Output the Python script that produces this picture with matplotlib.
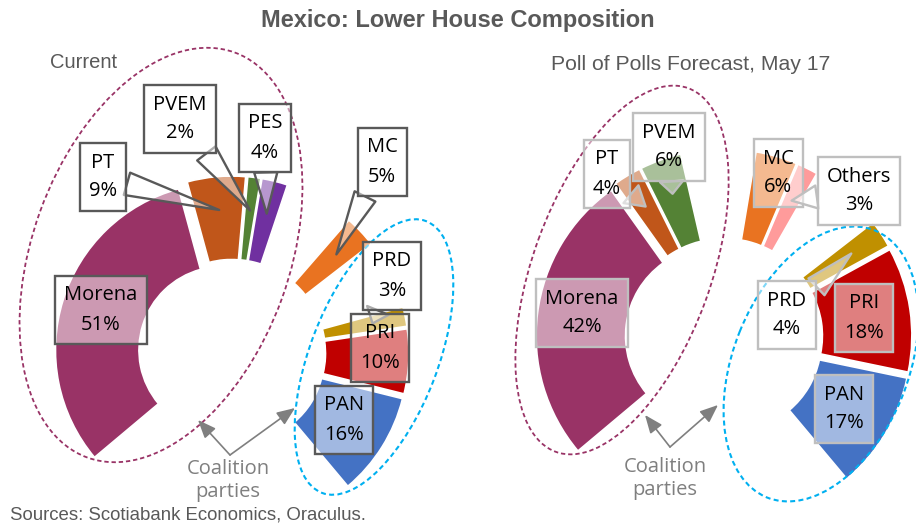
import matplotlib.pyplot as plt
from matplotlib.patches import Ellipse
import numpy as np

# Lower House composition, % of seats
current_parties = ["Morena", "PT", "PVEM", "PES", "MC", "PRD", "PRI", "PAN"]
current_shares = [51, 9, 2, 4, 5, 3, 10, 16]

# Poll of polls forecast, May 17
forecast_parties = ["Morena", "PT", "PVEM", "MC", "Others", "PRD", "PRI", "PAN"]
forecast_shares = [42, 4, 6, 6, 3, 4, 18, 17]

party_colors = {
    "Morena": "#993366",
    "PT": "#C0561A",
    "PVEM": "#548235",
    "PES": "#7030A0",
    "MC": "#E97321",
    "Others": "#FF9B9B",
    "PRD": "#C09000",
    "PRI": "#C00000",
    "PAN": "#4472C4",
}

W, H = 916, 527
GAP = 10      # blank slice between blocs
BOTTOM = 40   # blank lower part of the ring
LABEL_FONT = "Open Sans"
HEAD_FONT = "Liberation Sans"

fig = plt.figure(figsize=(W / 100, H / 100), dpi=100)
ax = fig.add_axes([0, 0, 1, 1])


def donut(names, shares, split_after, center, radius, explode):
    vals, cols, expl, keys = [], [], [], []
    for n, s in zip(names, shares):
        vals.append(s); cols.append(party_colors[n]); expl.append(explode); keys.append(n)
        if n in split_after:
            vals.append(GAP); cols.append("none"); expl.append(0); keys.append(None)
    vals.append(BOTTOM); cols.append("none"); expl.append(0); keys.append(None)
    # y axis is flipped, so this runs clockwise on screen from the lower left
    wedges, _ = ax.pie(vals, colors=cols, explode=expl, startangle=140, counterclock=True,
                       radius=radius, center=center, frame=True,
                       wedgeprops=dict(width=radius * 0.5, edgecolor="white", linewidth=1.2))
    out = {}
    for w, k in zip(wedges, keys):
        if k is None:
            w.set_visible(False)
        else:
            out[k] = w
    return out


def anchor(w, frac=0.8):
    t = np.radians((w.theta1 + w.theta2) / 2)
    cx, cy = w.center
    return cx + frac * w.r * np.cos(t), cy + frac * w.r * np.sin(t)


def callout(w, text, pos, edge, pointer):
    box = dict(boxstyle="square,pad=0.45", fc=(1, 1, 1, 0.5), ec=edge, lw=1.7)
    kw = dict(ha="center", va="center", fontsize=14.5, family=LABEL_FONT, color="black",
              linespacing=1.6, bbox=box, zorder=6)
    if pointer:
        ax.annotate(text, xy=anchor(w), xytext=pos,
                    arrowprops=dict(arrowstyle="wedge,tail_width=1.15,shrink_factor=0.5",
                                    fc=(1, 1, 1, 0.5), ec=edge, lw=1.7, shrinkA=0, shrinkB=0),
                    **kw)
    else:
        ax.text(pos[0], pos[1], text, **kw)


def coalition(text_pos, origin, targets):
    ax.text(text_pos[0], text_pos[1], "Coalition\nparties", ha="center", va="center",
            fontsize=14.5, color="#7F7F7F", family=LABEL_FONT, linespacing=1.2, zorder=6)
    for t in targets:
        ax.annotate("", xy=t, xytext=origin, zorder=6,
                    arrowprops=dict(arrowstyle="-|>,head_length=1.1,head_width=0.45",
                                    color="#7F7F7F", lw=1.2, shrinkA=0, shrinkB=0,
                                    mutation_scale=10))


# left: current
cur = donut(current_parties, current_shares, {"PES", "MC"}, (232, 353), 167, 10)
# right: forecast
fc_ = donut(forecast_parties, forecast_shares, {"PVEM", "Others"}, (724, 337), 179, 9)

# bloc outlines
ellipses = [
    ((161, 255), 431, 257, -70, "#993366", 1.3),
    ((374, 357), 291, 128, -69, "#00B0F0", 1.5),
    ((622, 270), 387, 178, -70, "#993366", 1.3),
    ((821, 364), 288, 175, -68, "#00B0F0", 1.5),
]
for c, w_, h_, ang, col, lw in ellipses:
    ax.add_patch(Ellipse(c, w_, h_, angle=ang, fill=False, ec=col, lw=lw,
                         ls=(0, (2.4, 1.6)), zorder=4))

# labels, current
cur_pos = {"Morena": (101, 310), "PT": (103, 177), "PVEM": (180, 119), "PES": (265, 138),
           "MC": (382, 162), "PRD": (392, 276), "PRI": (380, 348), "PAN": (344, 420)}
cur_pointer = {"PT", "PVEM", "PES", "MC", "PRD"}
for n, s in zip(current_parties, current_shares):
    callout(cur[n], f"{n}\n{s}%", cur_pos[n], "#595959", n in cur_pointer)

# labels, forecast
fc_pos = {"Morena": (582, 313), "PT": (607, 174), "PVEM": (669, 147), "MC": (778, 173),
          "Others": (859, 191), "PRD": (787, 315), "PRI": (864, 318), "PAN": (844, 409)}
fc_pointer = {"PT", "PVEM", "Others", "PRD"}
for n, s in zip(forecast_parties, forecast_shares):
    callout(fc_[n], f"{n}\n{s}%", fc_pos[n], "#BFBFBF", n in fc_pointer)

coalition((228, 481), (230, 455), [(198, 420), (295, 408)])
coalition((665, 478), (670, 447), [(645, 415), (718, 405)])

ax.text(458, 21, "Mexico: Lower House Composition", ha="center", va="center",
        fontsize=17, fontweight="bold", color="#595959", family=HEAD_FONT)
ax.text(50, 62, "Current", ha="left", va="center", fontsize=14.5, color="#595959", family=HEAD_FONT)
ax.text(691, 65, "Poll of Polls Forecast, May 17", ha="center", va="center", fontsize=15.2,
        color="#595959", family=HEAD_FONT)
ax.text(10, 520, "Sources: Scotiabank Economics, Oraculus.", ha="left", va="baseline",
        fontsize=13.4, color="#595959", family=HEAD_FONT)

ax.set_xlim(0, W)
ax.set_ylim(H, 0)
ax.set_aspect("equal")
ax.axis("off")

plt.savefig("out.png", dpi=100)
